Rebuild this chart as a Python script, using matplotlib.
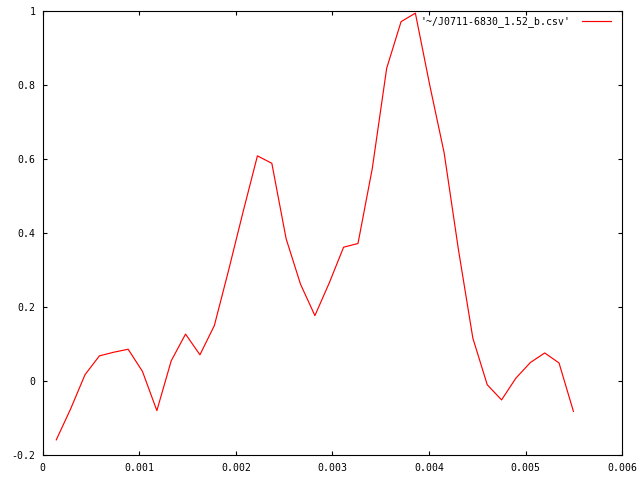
import matplotlib
matplotlib.use('Agg')
import matplotlib.pyplot as plt
from matplotlib.ticker import FormatStrFormatter, MultipleLocator

# data
t = [0.000141, 0.000290, 0.000438, 0.000587, 0.000736, 0.000885, 0.001033,
     0.001182, 0.001331, 0.001479, 0.001628, 0.001777, 0.001925, 0.002074,
     0.002223, 0.002372, 0.002520, 0.002669, 0.002818, 0.002966, 0.003115,
     0.003264, 0.003412, 0.003561, 0.003710, 0.003858, 0.004007, 0.004156,
     0.004304, 0.004453, 0.004602, 0.004750, 0.004899, 0.005048, 0.005197,
     0.005345, 0.005494]
amp = [-0.159, -0.075, 0.017, 0.068, 0.078, 0.086, 0.026,
       -0.080, 0.055, 0.127, 0.071, 0.150, 0.300, 0.457,
       0.609, 0.589, 0.385, 0.262, 0.177, 0.265, 0.362,
       0.372, 0.575, 0.846, 0.972, 0.995, 0.800, 0.617,
       0.355, 0.116, -0.010, -0.051, 0.008, 0.050, 0.076,
       0.049, -0.082]
label = "'~/J0711-6830_1.52_b.csv'"

plt.rcParams['font.family'] = 'DejaVu Sans Mono'
plt.rcParams['font.size'] = 7.1

fig = plt.figure(figsize=(6.4, 4.8), dpi=100)
ax = fig.add_axes([42.67 / 640, 1 - 455 / 480, (622.3 - 42.67) / 640, (455 - 11.3) / 480])

ax.plot(t, amp, color='red', lw=0.85, label=label)

ax.set_xlim(0, 0.006)
ax.set_ylim(-0.2, 1)
ax.xaxis.set_major_locator(MultipleLocator(0.001))
ax.yaxis.set_major_locator(MultipleLocator(0.2))
ax.xaxis.set_major_formatter(FormatStrFormatter('%g'))
ax.yaxis.set_major_formatter(FormatStrFormatter('%g'))
ax.tick_params(direction='in', length=3, width=0.8, top=True, right=True,
               color='black', labelcolor='black')
ax.tick_params(axis='x', pad=6)
ax.tick_params(axis='y', pad=5)
for s in ax.spines.values():
    s.set_linewidth(0.8)

ax.legend(loc='upper right', bbox_to_anchor=(610.7 / 640, 1 - 16.5 / 480),
          bbox_transform=fig.transFigure, frameon=False, markerfirst=False,
          handlelength=2.95, handletextpad=1.15, borderpad=0, borderaxespad=0)

fig.savefig('out.png', dpi=100)
